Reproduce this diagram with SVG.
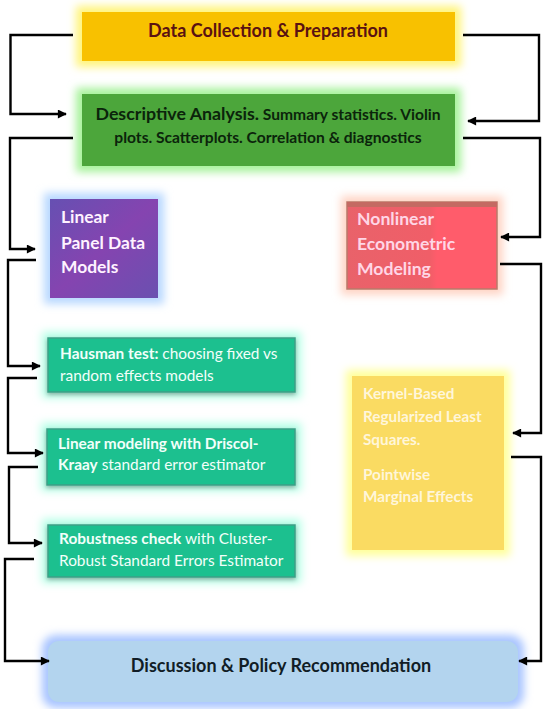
<svg xmlns="http://www.w3.org/2000/svg" width="550" height="709" viewBox="0 0 550 709">
<style>
text{font-family:Lato,"Open Sans","Liberation Sans",sans-serif;}
.b{font-weight:bold;}
.r{font-weight:normal;}
.conn{fill:none;stroke:#000;stroke-width:2.4;}
.wt{fill:#F2FFFA;font-size:15.4px;}
</style>
<defs>
<filter id="glow" x="-30%" y="-30%" width="160%" height="160%"><feGaussianBlur stdDeviation="4"/></filter>
<filter id="shadow" x="-10%" y="-20%" width="120%" height="150%"><feDropShadow dx="0" dy="2" stdDeviation="2" flood-color="#000" flood-opacity="0.3"/></filter>
<marker id="ah" viewBox="0 0 10 10" refX="9" refY="5" markerWidth="10" markerHeight="9" markerUnits="userSpaceOnUse" orient="auto"><path d="M0,0 L10,5 L0,10 z" fill="#000"/></marker>
<linearGradient id="purp" x1="0" y1="0" x2="1" y2="1"><stop offset="0" stop-color="#6650B2"/><stop offset="0.5" stop-color="#8544B0"/><stop offset="1" stop-color="#6A50B0"/></linearGradient>
<linearGradient id="red" x1="0" y1="0" x2="1" y2="0"><stop offset="0" stop-color="#E9626A"/><stop offset="0.55" stop-color="#F05E68"/><stop offset="0.6" stop-color="#FF5C6B"/><stop offset="1" stop-color="#FF5C6B"/></linearGradient>
</defs>
<rect width="550" height="709" fill="#fff"/>

<g id="data-collection">
<rect x="76" y="6" width="385" height="61" fill="#FFF47A" filter="url(#glow)"/>
<rect x="82" y="12" width="373" height="49" fill="#F8C100"/>
<text x="268" y="37" text-anchor="middle" class="b" font-size="18" fill="#5A1212">Data Collection &amp; Preparation</text>
</g>

<g id="descriptive">
<rect x="76" y="88" width="385" height="84" fill="#A6F29A" filter="url(#glow)"/>
<rect x="82" y="94" width="373" height="72" fill="#4CA63B"/>
<text x="268" y="120" text-anchor="middle" class="b" fill="#0B240B"><tspan font-size="17.8">Descriptive Analysis.</tspan><tspan font-size="15.6"> Summary statistics. Violin</tspan></text>
<text x="268" y="143" text-anchor="middle" class="b" font-size="15.6" fill="#0B240B">plots. Scatterplots. Correlation &amp; diagnostics</text>
</g>

<g id="linear-panel">
<rect x="44" y="193" width="120" height="111" fill="#B8D8FF" filter="url(#glow)"/>
<rect x="50" y="199" width="108" height="99" fill="url(#purp)"/>
<text class="b" font-size="17.4" fill="#FFF2FF"><tspan x="61" y="223">Linear</tspan><tspan x="61" y="249">Panel Data</tspan><tspan x="61" y="273">Models</tspan></text>
</g>

<g id="nonlinear">
<rect x="341" y="196" width="162" height="99" fill="#FFD4C4" filter="url(#glow)"/>
<rect x="347" y="202" width="150" height="87" fill="url(#red)" stroke="#B97A6A" stroke-width="1.5"/>
<rect x="347" y="202" width="150" height="5" fill="#C46A62"/>
<text class="b" font-size="17.6" fill="#FFD6E6"><tspan x="357" y="225">Nonlinear</tspan><tspan x="357" y="250">Econometric</tspan><tspan x="357" y="275">Modeling</tspan></text>
</g>

<g id="hausman">
<rect x="42" y="332" width="259" height="66" fill="#B4FFE6" filter="url(#glow)"/>
<rect x="48" y="338" width="247" height="54" fill="#1EC08F" stroke="#3D9E86" stroke-width="1.5" filter="url(#shadow)"/>
<text class="wt"><tspan x="60" y="359" class="b">Hausman test:</tspan><tspan class="r"> choosing fixed vs</tspan><tspan x="60" y="381" class="r">random effects models</tspan></text>
</g>

<g id="driscoll-kraay">
<rect x="41" y="423" width="260" height="68" fill="#B4FFE6" filter="url(#glow)"/>
<rect x="47" y="429" width="248" height="56" fill="#1EC08F" stroke="#3D9E86" stroke-width="1.5" filter="url(#shadow)"/>
<text class="wt"><tspan x="58" y="449" class="b">Linear modeling with Driscol-</tspan><tspan x="58" y="470" class="b">Kraay</tspan><tspan class="r"> standard error estimator</tspan></text>
</g>

<g id="robustness">
<rect x="42" y="519" width="259" height="64" fill="#B4FFE6" filter="url(#glow)"/>
<rect x="48" y="525" width="247" height="52" fill="#1EC08F" stroke="#3D9E86" stroke-width="1.5" filter="url(#shadow)"/>
<text class="wt"><tspan x="59" y="544" class="b">Robustness check</tspan><tspan class="r"> with Cluster-</tspan><tspan x="59" y="566" class="r">Robust Standard Errors Estimator</tspan></text>
</g>

<g id="kernel">
<rect x="346" y="370" width="164" height="186" fill="#FFFF9A" filter="url(#glow)"/>
<rect x="352" y="376" width="152" height="174" fill="#FADB62"/>
<text class="b" font-size="15.3" fill="#FFF6DA"><tspan x="363" y="399">Kernel-Based</tspan><tspan x="363" y="422">Regularized Least</tspan><tspan x="363" y="445">Squares.</tspan><tspan x="363" y="480">Pointwise</tspan><tspan x="363" y="502">Marginal Effects</tspan></text>
</g>

<g id="discussion">
<rect x="42" y="635" width="482" height="73" rx="14" fill="#A8C4FF" filter="url(#glow)"/>
<rect x="48" y="641" width="470" height="61" rx="11" fill="#B3D4EE"/>
<text x="281" y="672" text-anchor="middle" class="b" font-size="18" fill="#111D26">Discussion &amp; Policy Recommendation</text>
</g>

<g id="connectors">
<path class="conn" d="M73,35 H10.5 V114 H66" marker-end="url(#ah)"/>
<path class="conn" d="M463,35 H539 V121 H468" marker-end="url(#ah)"/>
<path class="conn" d="M73,138 H10 V249 H35" marker-end="url(#ah)"/>
<path class="conn" d="M463,138 H540 V237 H501" marker-end="url(#ah)"/>
<path class="conn" d="M36,260 H8 V366 H40" marker-end="url(#ah)"/>
<path class="conn" d="M37,378 H8 V453 H43" marker-end="url(#ah)"/>
<path class="conn" d="M38,467 H9 V543 H42" marker-end="url(#ah)"/>
<path class="conn" d="M34,559 H5 V661 H49" marker-end="url(#ah)"/>
<path class="conn" d="M500,264 H541 V433 H513" marker-end="url(#ah)"/>
<path class="conn" d="M511,457 H541 V661 H519" marker-end="url(#ah)"/>
</g>
</svg>
